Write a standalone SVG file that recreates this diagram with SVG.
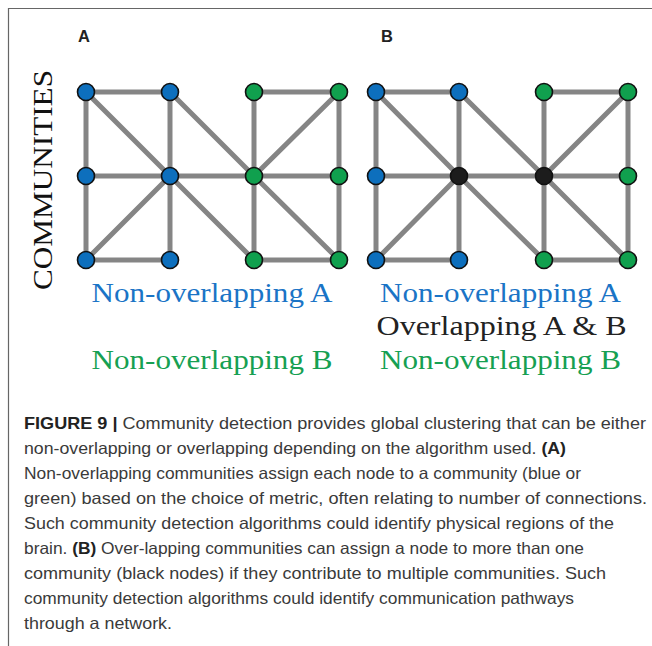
<svg xmlns="http://www.w3.org/2000/svg" width="652" height="646" viewBox="0 0 652 646">
<style>
.edge{stroke:#858585;stroke-width:5;fill:none;stroke-linecap:round}
.n{stroke:#111;stroke-width:1.6}
.blue{fill:#0d6fbd}
.green{fill:#10a04e}
.black{fill:#1c1c1c}
.panel{font-family:"Liberation Sans",Arial,sans-serif;font-weight:bold;font-size:16.5px;fill:#222}
.lbl{font-family:"Liberation Serif","Times New Roman",serif;font-size:28px}
.cap{font-family:"Liberation Sans",Arial,sans-serif;font-size:16.5px;fill:#3a3a3a}
.capb{font-weight:bold;fill:#222}
</style>
<rect width="652" height="646" fill="#fff"/>
<path d="M8.5,646 V8.5 H652" fill="none" stroke="#666" stroke-width="1.2"/>
<text class="panel" x="78" y="42">A</text>
<text class="panel" x="381" y="42">B</text>
<text class="lbl" transform="translate(51.5,180) rotate(-90)" text-anchor="middle" font-size="31" textLength="220" lengthAdjust="spacingAndGlyphs" fill="#111">COMMUNITIES</text>
<g id="connectors">
<g id="edgesA" class="edge">
<path d="M86,92H170M254,92H339M86,176H339M86,260H170M254,260H339"/>
<path d="M86,92V260M170,92V260M254,92V260M339,92V260"/>
<path d="M86,92L170,176M170,92L254,176M339,92L254,176M86,260L170,176M170,176L254,260M254,176L339,260"/>
</g>
<g id="edgesB" class="edge">
<path d="M376,92H459M544,92H628M376,176H628M376,260H459M544,260H628"/>
<path d="M376,92V260M459,92V260M544,92V260M628,92V260"/>
<path d="M376,92L459,176M459,92L544,176M628,92L544,176M376,260L459,176M459,176L544,260M544,176L628,260"/>
</g>
</g>
<g id="nodesA">
<g id="a00"><circle class="n blue" cx="86" cy="92" r="8.5"/></g>
<g id="a10"><circle class="n blue" cx="170" cy="92" r="8.5"/></g>
<g id="a20"><circle class="n green" cx="254" cy="92" r="8.5"/></g>
<g id="a30"><circle class="n green" cx="339" cy="92" r="8.5"/></g>
<g id="a01"><circle class="n blue" cx="86" cy="176" r="8.5"/></g>
<g id="a11"><circle class="n blue" cx="170" cy="176" r="8.5"/></g>
<g id="a21"><circle class="n green" cx="254" cy="176" r="8.5"/></g>
<g id="a31"><circle class="n green" cx="339" cy="176" r="8.5"/></g>
<g id="a02"><circle class="n blue" cx="86" cy="260" r="8.5"/></g>
<g id="a12"><circle class="n blue" cx="170" cy="260" r="8.5"/></g>
<g id="a22"><circle class="n green" cx="254" cy="260" r="8.5"/></g>
<g id="a32"><circle class="n green" cx="339" cy="260" r="8.5"/></g>
</g>
<g id="nodesB">
<g id="b00"><circle class="n blue" cx="376" cy="92" r="8.5"/></g>
<g id="b10"><circle class="n blue" cx="459" cy="92" r="8.5"/></g>
<g id="b20"><circle class="n green" cx="544" cy="92" r="8.5"/></g>
<g id="b30"><circle class="n green" cx="628" cy="92" r="8.5"/></g>
<g id="b01"><circle class="n blue" cx="376" cy="176" r="8.5"/></g>
<g id="b11"><circle class="n black" cx="459" cy="176" r="8.5"/></g>
<g id="b21"><circle class="n black" cx="544" cy="176" r="8.5"/></g>
<g id="b31"><circle class="n green" cx="628" cy="176" r="8.5"/></g>
<g id="b02"><circle class="n blue" cx="376" cy="260" r="8.5"/></g>
<g id="b12"><circle class="n blue" cx="459" cy="260" r="8.5"/></g>
<g id="b22"><circle class="n green" cx="544" cy="260" r="8.5"/></g>
<g id="b32"><circle class="n green" cx="628" cy="260" r="8.5"/></g>
</g>
<g id="labels">
<text class="lbl" x="91.5" y="302" textLength="241" lengthAdjust="spacingAndGlyphs" fill="#1a74c6">Non-overlapping A</text>
<text class="lbl" x="91.5" y="369" textLength="241" lengthAdjust="spacingAndGlyphs" fill="#16a052">Non-overlapping B</text>
<text class="lbl" x="380" y="302" textLength="241" lengthAdjust="spacingAndGlyphs" fill="#1a74c6">Non-overlapping A</text>
<text class="lbl" x="376.5" y="335" textLength="250" lengthAdjust="spacingAndGlyphs" fill="#222">Overlapping A &amp; B</text>
<text class="lbl" x="380" y="369" textLength="241" lengthAdjust="spacingAndGlyphs" fill="#16a052">Non-overlapping B</text>
</g>
<g id="caption" class="cap">
<text x="24" y="429" textLength="622" lengthAdjust="spacingAndGlyphs"><tspan class="capb">FIGURE 9 |</tspan> Community detection provides global clustering that can be either</text>
<text x="24" y="454" textLength="542" lengthAdjust="spacingAndGlyphs">non-overlapping or overlapping depending on the algorithm used. <tspan class="capb">(A)</tspan></text>
<text x="24" y="479" textLength="557" lengthAdjust="spacingAndGlyphs">Non-overlapping communities assign each node to a community (blue or</text>
<text x="24" y="504" textLength="623" lengthAdjust="spacingAndGlyphs">green) based on the choice of metric, often relating to number of connections.</text>
<text x="24" y="529" textLength="590" lengthAdjust="spacingAndGlyphs">Such community detection algorithms could identify physical regions of the</text>
<text x="24" y="554" textLength="560" lengthAdjust="spacingAndGlyphs">brain. <tspan class="capb">(B)</tspan> Over-lapping communities can assign a node to more than one</text>
<text x="24" y="579" textLength="582" lengthAdjust="spacingAndGlyphs">community (black nodes) if they contribute to multiple communities. Such</text>
<text x="24" y="604" textLength="550" lengthAdjust="spacingAndGlyphs">community detection algorithms could identify communication pathways</text>
<text x="24" y="629" textLength="148" lengthAdjust="spacingAndGlyphs">through a network.</text>
</g>
</svg>
